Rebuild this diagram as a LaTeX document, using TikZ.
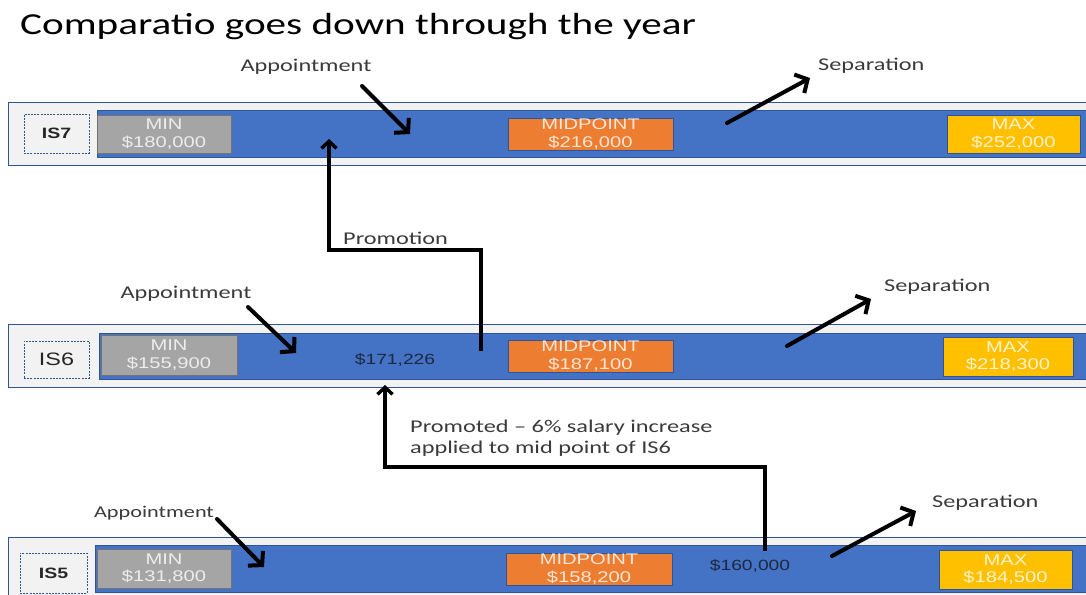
\documentclass[tikz,border=0pt]{standalone}
\usepackage{fontspec}
\setmainfont{Carlito}[FakeStretch=1.35]
\newfontfamily\arialf{Liberation Sans}[FakeStretch=1.3]
\usetikzlibrary{arrows.meta}
\definecolor{barblue}{HTML}{4472C4}
\definecolor{panelline}{HTML}{2F5597}
\definecolor{panelfill}{HTML}{F2F2F2}
\definecolor{mingrey}{HTML}{A5A5A5}
\definecolor{midorange}{HTML}{ED7D31}
\definecolor{maxyellow}{HTML}{FFC000}
\definecolor{notegrey}{HTML}{3A3A3A}
\definecolor{valnavy}{HTML}{1C2940}
\tikzset{
  panel/.style={draw=panelline, fill=panelfill, line width=1pt},
  bar/.style={fill=barblue, draw=panelline, line width=0.8pt},
  lblbox/.style={draw=panelline, dash pattern=on 2pt off 1.2pt, fill=panelfill, line width=0.8pt, inner sep=0pt, text=black!85},
  valbox/.style={inner sep=0pt, line width=0.8pt, align=center, text=white, text opacity=0.8,
                 font=\arialf\fontsize{15.5}{17.5}\selectfont},
  minbox/.style={valbox, fill=mingrey, draw=black!55},
  midbox/.style={valbox, fill=midorange, draw=panelline},
  maxbox/.style={valbox, fill=maxyellow, draw=panelline},
  note/.style={font=\fontsize{18}{21}\selectfont, text=notegrey, inner sep=0pt},
  val/.style={font=\arialf\fontsize{14.8}{16}\selectfont, text=valnavy, inner sep=0pt},
  arr/.style={line width=4pt, line cap=round, -{Straight Barb[length=9.5pt,width=21pt,line width=4pt]}},
  elbow/.style={line width=3.4pt, -{Straight Barb[length=7pt,width=15pt,line width=3.4pt]}},
}
\begin{document}
\begin{tikzpicture}[x=1pt,y=-1pt]
\useasboundingbox (0,0) rectangle (1086,594);
\clip (0,0) rectangle (1086,594);

% title
\node[anchor=west, inner sep=0pt, font=\fontsize{30.5}{34}\selectfont] (title) at (20,27) {Comparatio goes down through the year};

% ---------------- IS7 ----------------
\path[panel] (8,102) rectangle (1100,165);
\path[bar] (97,110) rectangle (1100,157);
\node[lblbox, minimum width=65pt, minimum height=39pt, font=\arialf\bfseries\fontsize{15}{17}\selectfont] (is7) at (56.5,133.5) {IS7};
\node[minbox, minimum width=134pt, minimum height=38pt] (min7) at (164,134) {MIN\\\$180,000};
\node[midbox, minimum width=165pt, minimum height=32pt] (mid7) at (590.5,134) {MIDPOINT\\\$216,000};
\node[maxbox, minimum width=133pt, minimum height=38pt] (max7) at (1013.5,134) {MAX\\\$252,000};

\node[note] (app7) at (306,67) {Appointment};
\coordinate (app7s) at (362,86);
\coordinate (app7e) at (410,134);
\draw[arr] (app7s) -- (app7e);
\node[note, anchor=west] (sep7) at (818,66) {Separation};
\coordinate (sep7s) at (727,123);
\coordinate (sep7e) at (810,78);
\draw[arr] (sep7s) -- (sep7e);

% ---------------- IS6 ----------------
\path[panel] (8,324) rectangle (1100,387);
\path[bar] (99,333) rectangle (1100,379);
\node[lblbox, minimum width=65pt, minimum height=37pt, font=\arialf\fontsize{18}{20}\selectfont] (is6) at (56.5,359.5) {IS6};
\node[minbox, minimum width=136pt, minimum height=40pt] (min6) at (169,355) {MIN\\\$155,900};
\node[midbox, minimum width=165pt, minimum height=32pt] (mid6) at (590.5,356) {MIDPOINT\\\$187,100};
\node[maxbox, minimum width=130pt, minimum height=39pt] (max6) at (1008,356.5) {MAX\\\$218,300};
\node[val] (v6) at (395,360) {\$171,226};

\node[note] (app6) at (186,294) {Appointment};
\coordinate (app6s) at (248,307);
\coordinate (app6e) at (296,353);
\draw[arr] (app6s) -- (app6e);
\node[note, anchor=west] (sep6) at (884,287) {Separation};
\coordinate (sep6s) at (787,346);
\coordinate (sep6e) at (871,299);
\draw[arr] (sep6s) -- (sep6e);

% promotion IS6 -> IS7
\coordinate (pr1s) at (481,351);
\coordinate (pr1c) at (329,250);
\coordinate (pr1e) at (329,139);
\draw[elbow] (pr1s) -- (pr1s |- pr1c) -- (pr1c) -- (pr1e);
\node[note, anchor=west] (prom) at (343,238) {Promotion};

% ---------------- IS5 ----------------
\path[panel] (8,537) rectangle (1100,600);
\path[bar] (95,545) rectangle (1100,592);
\node[lblbox, minimum width=67pt, minimum height=40pt, font=\arialf\bfseries\fontsize{15}{17}\selectfont] (is5) at (53.5,573) {IS5};
\node[minbox, minimum width=134pt, minimum height=39pt] (min5) at (164,568.5) {MIN\\\$131,800};
\node[midbox, minimum width=166pt, minimum height=32pt] (mid5) at (589,569) {MIDPOINT\\\$158,200};
\node[maxbox, minimum width=133pt, minimum height=39pt] (max5) at (1005.5,569.5) {MAX\\\$184,500};
\node[val] (v5) at (750,566) {\$160,000};

\node[note, font=\fontsize{16.5}{19}\selectfont] (app5) at (154,513) {Appointment};
\coordinate (app5s) at (217,519);
\coordinate (app5e) at (264,567);
\draw[arr] (app5s) -- (app5e);
\node[note, anchor=west] (sep5) at (932,503) {Separation};
\coordinate (sep5s) at (832,556);
\coordinate (sep5e) at (916,511);
\draw[arr] (sep5s) -- (sep5e);

% promotion IS5 -> IS6
\coordinate (pr2s) at (765,551);
\coordinate (pr2c) at (385,467);
\coordinate (pr2e) at (385,385);
\draw[elbow] (pr2s) -- (pr2s |- pr2c) -- (pr2c) -- (pr2e);
\node[note, anchor=north west, align=left] (promd) at (410,420) {Promoted -- 6\% salary increase\\applied to mid point of IS6};

\end{tikzpicture}
\end{document}
